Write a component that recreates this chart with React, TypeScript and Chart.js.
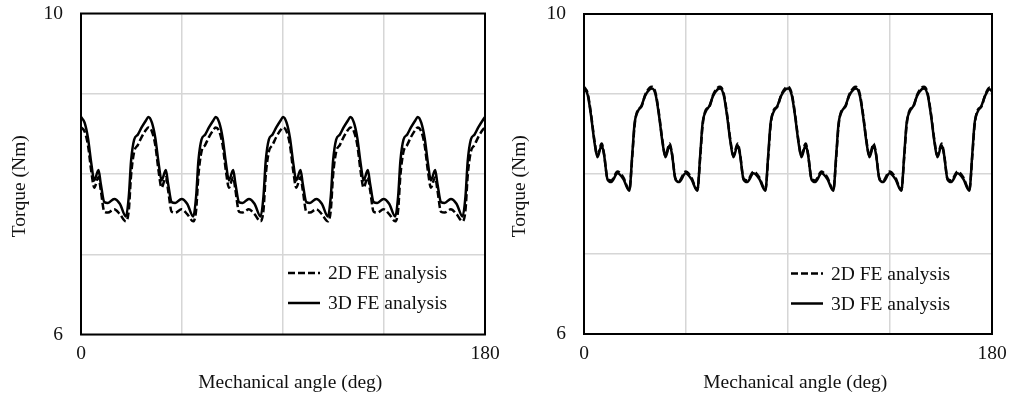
import React, { useEffect, useRef } from 'react';
import { Chart, registerables } from 'chart.js';

Chart.register(...registerables);

// Mechanical angle (deg) sample positions
const angles = [
  0, 1.6, 3.1, 4.6, 5.9, 7.8, 8.8, 10.4, 12, 14.8, 17.3, 20, 21.3, 22.3, 23.7, 25.3, 27, 29,
  30, 31.6, 33.1, 34.6, 35.9, 37.8, 38.8, 40.4, 42, 44.8, 47.3, 50, 51.3, 52.3, 53.7, 55.3, 57, 59,
  60, 61.6, 63.1, 64.6, 65.9, 67.8, 68.8, 70.4, 72, 74.8, 77.3, 80, 81.3, 82.3, 83.7, 85.3, 87, 89,
  90, 91.6, 93.1, 94.6, 95.9, 97.8, 98.8, 100.4, 102, 104.8, 107.3, 110, 111.3, 112.3, 113.7, 115.3, 117, 119,
  120, 121.6, 123.1, 124.6, 125.9, 127.8, 128.8, 130.4, 132, 134.8, 137.3, 140, 141.3, 142.3, 143.7, 145.3, 147, 149,
  150, 151.6, 153.1, 154.6, 155.9, 157.8, 158.8, 160.4, 162, 164.8, 167.3, 170, 171.3, 172.3, 173.7, 175.3, 177, 179,
  180,
];

// Left chart torque (Nm)
const left2D = [
  8.58, 8.53, 8.36, 8.03, 7.83, 7.96, 7.80, 7.53, 7.52, 7.56, 7.50, 7.41, 7.55, 7.98, 8.28, 8.36, 8.46, 8.55,
  8.58, 8.53, 8.36, 8.03, 7.83, 7.96, 7.80, 7.53, 7.52, 7.56, 7.50, 7.41, 7.55, 7.98, 8.28, 8.36, 8.46, 8.55,
  8.58, 8.53, 8.36, 8.03, 7.83, 7.96, 7.80, 7.53, 7.52, 7.56, 7.50, 7.41, 7.55, 7.98, 8.28, 8.36, 8.46, 8.55,
  8.58, 8.53, 8.36, 8.03, 7.83, 7.96, 7.80, 7.53, 7.52, 7.56, 7.50, 7.41, 7.55, 7.98, 8.28, 8.36, 8.46, 8.55,
  8.58, 8.53, 8.36, 8.03, 7.83, 7.96, 7.80, 7.53, 7.52, 7.56, 7.50, 7.41, 7.55, 7.98, 8.28, 8.36, 8.46, 8.55,
  8.58, 8.53, 8.36, 8.03, 7.83, 7.96, 7.80, 7.53, 7.52, 7.56, 7.50, 7.41, 7.55, 7.98, 8.28, 8.36, 8.46, 8.55,
  8.58,
];
const left3D = [
  8.71, 8.64, 8.45, 8.13, 7.92, 8.05, 7.88, 7.65, 7.64, 7.69, 7.63, 7.47, 7.72, 8.16, 8.43, 8.49, 8.58, 8.67,
  8.71, 8.64, 8.45, 8.13, 7.92, 8.05, 7.88, 7.65, 7.64, 7.69, 7.63, 7.47, 7.72, 8.16, 8.43, 8.49, 8.58, 8.67,
  8.71, 8.64, 8.45, 8.13, 7.92, 8.05, 7.88, 7.65, 7.64, 7.69, 7.63, 7.47, 7.72, 8.16, 8.43, 8.49, 8.58, 8.67,
  8.71, 8.64, 8.45, 8.13, 7.92, 8.05, 7.88, 7.65, 7.64, 7.69, 7.63, 7.47, 7.72, 8.16, 8.43, 8.49, 8.58, 8.67,
  8.71, 8.64, 8.45, 8.13, 7.92, 8.05, 7.88, 7.65, 7.64, 7.69, 7.63, 7.47, 7.72, 8.16, 8.43, 8.49, 8.58, 8.67,
  8.71, 8.64, 8.45, 8.13, 7.92, 8.05, 7.88, 7.65, 7.64, 7.69, 7.63, 7.47, 7.72, 8.16, 8.43, 8.49, 8.58, 8.67,
  8.71,
];

// Right chart torque (Nm)
const right2D = [
  9.09, 9.01, 8.75, 8.42, 8.23, 8.38, 8.26, 7.94, 7.92, 8.03, 7.96, 7.80, 8.22, 8.60, 8.80, 8.84, 8.99, 9.08,
  9.09, 9.01, 8.75, 8.42, 8.23, 8.38, 8.26, 7.94, 7.92, 8.03, 7.96, 7.80, 8.22, 8.60, 8.80, 8.84, 8.99, 9.08,
  9.09, 9.01, 8.75, 8.42, 8.23, 8.38, 8.26, 7.94, 7.92, 8.03, 7.96, 7.80, 8.22, 8.60, 8.80, 8.84, 8.99, 9.08,
  9.09, 9.01, 8.75, 8.42, 8.23, 8.38, 8.26, 7.94, 7.92, 8.03, 7.96, 7.80, 8.22, 8.60, 8.80, 8.84, 8.99, 9.08,
  9.09, 9.01, 8.75, 8.42, 8.23, 8.38, 8.26, 7.94, 7.92, 8.03, 7.96, 7.80, 8.22, 8.60, 8.80, 8.84, 8.99, 9.08,
  9.09, 9.01, 8.75, 8.42, 8.23, 8.38, 8.26, 7.94, 7.92, 8.03, 7.96, 7.80, 8.22, 8.60, 8.80, 8.84, 8.99, 9.08,
  9.05,
];
const right3D = [
  9.07, 8.99, 8.73, 8.40, 8.21, 8.36, 8.25, 7.93, 7.90, 8.01, 7.94, 7.79, 8.25, 8.63, 8.78, 8.85, 8.98, 9.06,
  9.07, 8.99, 8.73, 8.40, 8.21, 8.36, 8.25, 7.93, 7.90, 8.01, 7.94, 7.79, 8.25, 8.63, 8.78, 8.85, 8.98, 9.06,
  9.07, 8.99, 8.73, 8.40, 8.21, 8.36, 8.25, 7.93, 7.90, 8.01, 7.94, 7.79, 8.25, 8.63, 8.78, 8.85, 8.98, 9.06,
  9.07, 8.99, 8.73, 8.40, 8.21, 8.36, 8.25, 7.93, 7.90, 8.01, 7.94, 7.79, 8.25, 8.63, 8.78, 8.85, 8.98, 9.06,
  9.07, 8.99, 8.73, 8.40, 8.21, 8.36, 8.25, 7.93, 7.90, 8.01, 7.94, 7.79, 8.25, 8.63, 8.78, 8.85, 8.98, 9.06,
  9.07, 8.99, 8.73, 8.40, 8.21, 8.36, 8.25, 7.93, 7.90, 8.01, 7.94, 7.79, 8.25, 8.63, 8.78, 8.85, 8.98, 9.06,
  9.03,
];

const seriesLabels = ['2D FE analysis', '3D FE analysis'];
const xTickLabels = [0, 180];
const yTickLabels = [6, 10];
const xTitle = 'Mechanical angle (deg)';
const yTitle = 'Torque (Nm)';

const FONT = "'Liberation Serif', 'Times New Roman', serif";
const FSIZE = 19.5;

type PanelProps = {
  left: number;
  width: number;
  s2D: number[];
  s3D: number[];
  yAxisWidth: number;
  xAxisHeight: number;
  padTop: number;
  padRight: number;
};

const framePlugin = {
  id: 'frameAndLegend',
  afterDraw(chart: any) {
    const { ctx, chartArea: a } = chart;
    ctx.save();
    ctx.strokeStyle = '#000';
    ctx.lineWidth = 2;
    ctx.setLineDash([]);
    ctx.strokeRect(a.left, a.top, a.right - a.left, a.bottom - a.top);

    // legend inside plot area
    const x0 = a.left + 207;
    const rows = [a.top + 259.5, a.top + 289.5];
    chart.data.datasets.forEach((ds: any, i: number) => {
      const y = rows[i];
      ctx.beginPath();
      ctx.strokeStyle = '#000';
      ctx.lineWidth = 2.5;
      ctx.setLineDash(ds.borderDash || []);
      ctx.moveTo(x0, y);
      ctx.lineTo(x0 + 32, y);
      ctx.stroke();
      ctx.setLineDash([]);
      ctx.fillStyle = '#111';
      ctx.font = `${FSIZE}px ${FONT}`;
      ctx.textAlign = 'left';
      ctx.textBaseline = 'middle';
      ctx.fillText(ds.label, x0 + 40, y + 1);
    });
    ctx.restore();
  },
};

const zeroPadding = (s: any) => {
  s.paddingTop = 0;
  s.paddingBottom = 0;
  s.paddingLeft = 0;
  s.paddingRight = 0;
};

function Panel({ left, width, s2D, s3D, yAxisWidth, xAxisHeight, padTop, padRight }: PanelProps) {
  const ref = useRef<HTMLCanvasElement | null>(null);
  useEffect(() => {
    if (!ref.current) return;
    const chart = new Chart(ref.current, {
      type: 'line',
      data: {
        datasets: [
          {
            label: seriesLabels[0],
            data: angles.map((a, i) => ({ x: a, y: s2D[i] })),
            borderColor: '#000',
            borderWidth: 2.5,
            borderDash: [7, 3],
            pointRadius: 0,
            fill: false,
            cubicInterpolationMode: 'monotone',
          },
          {
            label: seriesLabels[1],
            data: angles.map((a, i) => ({ x: a, y: s3D[i] })),
            borderColor: '#000',
            borderWidth: 2.5,
            pointRadius: 0,
            fill: false,
            cubicInterpolationMode: 'monotone',
          },
        ],
      },
      options: {
        responsive: false,
        animation: false,
        layout: { autoPadding: false, padding: { top: padTop, right: padRight, left: 0, bottom: 0 } },
        plugins: {
          legend: { display: false },
          tooltip: { enabled: false },
        },
        scales: {
          x: {
            type: 'linear',
            min: 0,
            max: 180,
            afterFit: (s: any) => {
              s.height = xAxisHeight;
              zeroPadding(s);
            },
            grid: { color: '#d6d6d6', lineWidth: 1.5, drawTicks: false },
            border: { display: false },
            ticks: {
              stepSize: 45,
              padding: 8,
              color: '#111',
              font: { family: FONT, size: FSIZE },
              maxRotation: 0,
              autoSkip: false,
              callback: (v: any) => (xTickLabels.includes(Number(v)) ? String(v) : ''),
            },
            title: {
              display: true,
              text: '   ' + xTitle,
              color: '#111',
              font: { family: FONT, size: FSIZE },
              padding: { top: 0, bottom: 10.3 },
            },
          },
          y: {
            type: 'linear',
            min: 6,
            max: 10,
            afterFit: (s: any) => {
              s.width = yAxisWidth;
              zeroPadding(s);
            },
            grid: { color: '#d6d6d6', lineWidth: 1.5, drawTicks: false },
            border: { display: false },
            ticks: {
              stepSize: 1,
              padding: 18,
              color: '#111',
              font: { family: FONT, size: FSIZE },
              callback: (v: any) => (yTickLabels.includes(Number(v)) ? String(v) : ''),
            },
            title: {
              display: true,
              text: yTitle + '     ',
              color: '#111',
              font: { family: FONT, size: FSIZE },
              padding: { top: 8.3, bottom: 0 },
            },
          },
        },
      },
      plugins: [framePlugin],
    } as any);
    return () => chart.destroy();
  }, []);
  return (
    <canvas
      ref={ref}
      width={width}
      height={405}
      style={{ position: 'absolute', left, top: 0, width, height: 405 }}
    />
  );
}

export default function App() {
  return (
    <div style={{ position: 'absolute', left: 0, top: 0, width: 1014, height: 405, background: '#fff' }}>
      <Panel left={0} width={500} s2D={left2D} s3D={left3D} yAxisWidth={81} xAxisHeight={70.5} padTop={13.5} padRight={15} />
      <Panel left={500} width={514} s2D={right2D} s3D={right3D} yAxisWidth={84} xAxisHeight={71} padTop={14} padRight={22} />
    </div>
  );
}
